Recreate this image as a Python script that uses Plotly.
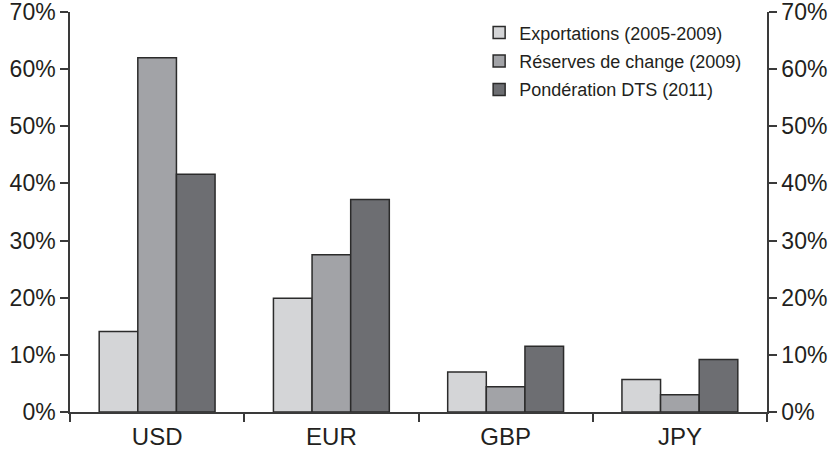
import plotly.graph_objects as go

categories = ["USD", "EUR", "GBP", "JPY"]
exportations = [0.141, 0.199, 0.070, 0.057]
reserves = [0.620, 0.275, 0.044, 0.030]
dts = [0.416, 0.372, 0.115, 0.092]
series_names = ["Exportations (2005-2009)", "Réserves de change (2009)", "Pondération DTS (2011)"]
colors = ["#d4d5d7", "#a2a3a7", "#6d6e72"]
tick_vals = [0, 0.1, 0.2, 0.3, 0.4, 0.5, 0.6, 0.7]

FONT = "Liberation Sans, Arial, sans-serif"
TXT = "#231f20"
LINE = "#3a3a3a"

fig = go.Figure()
for i, (name, vals) in enumerate(zip(series_names, [exportations, reserves, dts])):
    fig.add_trace(go.Bar(
        x=categories, y=vals, name=name, legendgroup=f"g{i}",
        marker=dict(color=colors[i], line=dict(color="#2b2b2b", width=1.5)),
    ))

fig.add_trace(go.Bar(x=categories, y=dts, yaxis="y2", showlegend=False,
                     marker=dict(color="rgba(0,0,0,0)", line=dict(width=0)),
                     hoverinfo="skip", opacity=0))

yax = dict(range=[0, 0.7], tickvals=tick_vals, tickformat=".0%", ticks="outside",
           ticklen=8, tickwidth=1.5, tickcolor=LINE, showline=True, linecolor=LINE,
           linewidth=1.5, showgrid=False, zeroline=False, ticklabeloverflow="allow",
           automargin=False,
           tickfont=dict(family=FONT, size=23, color=TXT))

fig.update_layout(
    width=830, height=455,
    margin=dict(l=70, r=63, t=12, b=43, autoexpand=False),
    paper_bgcolor="white", plot_bgcolor="white",
    barmode="group", bargap=0.335, bargroupgap=0,
    xaxis=dict(type="category", ticks="outside", tickson="boundaries", ticklen=8,
               tickwidth=1.5, tickcolor=LINE, showline=True, linecolor=LINE, linewidth=1.5,
               showgrid=False, automargin=False, ticklabelstandoff=2,
               tickfont=dict(family=FONT, size=24, color=TXT)),
    yaxis=yax,
    yaxis2=dict(yax, overlaying="y", side="right", matches="y"),
    legend=dict(x=0.587, y=0.994, xanchor="left", yanchor="top", tracegroupgap=2,
                font=dict(family=FONT, size=18, color=TXT), bgcolor="rgba(0,0,0,0)"),
    showlegend=True,
)

fig.write_html("out.html")
